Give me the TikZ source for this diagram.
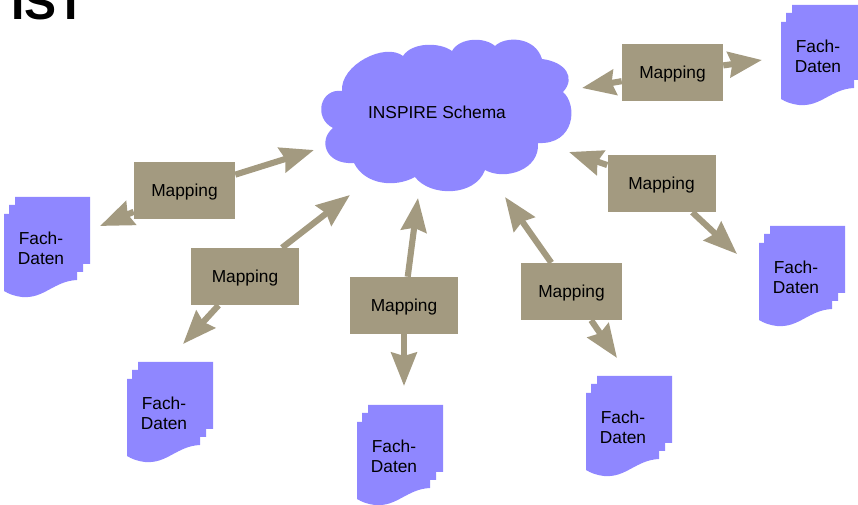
\documentclass[tikz,border=0pt]{standalone}
\usepackage{fontspec}
\setmainfont{Liberation Sans}
\usetikzlibrary{arrows.meta}
\definecolor{cloudblue}{HTML}{8F87FF}
\definecolor{maptan}{HTML}{A39A80}

\begin{document}
\begin{tikzpicture}%
	[x=0.75pt,
	y=-0.75pt,
	mapbox/.style={fill=maptan,inner sep=0pt,minimum height=42.75pt,text depth=0pt,font=\fontsize{13}{15}\selectfont},
	link/.style={draw=maptan,line width=4.6pt,-{Stealth[length=25pt,width=19pt,inset=2.5pt]}},
	sheet/.style={fill=cloudblue},
	fachdaten/.pic={
		\fill[sheet] (11,0) -- (86,0) -- (86,67) -- (79,67) -- (79,75) -- (73,75) -- (73,83)
			.. controls (50,84) and (40,102) .. (18,100) .. controls (10,99) and (5,97) .. (0,94)
			-- (0,17) -- (5,17) -- (5,8) -- (11,8) -- cycle;
		\node[align=center,font=\fontsize{13}{15}\selectfont] (-label) at (37,51.5) {Fach-\\Daten};
	}]
%
\useasboundingbox (0,0) rectangle (858,505);
%%
%% Heading, cut off by the top edge
%%
\node[anchor=base west,inner sep=0pt,font=\bfseries\fontsize{36}{36}\selectfont] (heading) at (11,20) {IST};
%%
%% The cloud
%%
\fill[cloudblue] (342,91) .. controls (340,65) and (385,42) .. (403,56)
	.. controls (412,42) and (440,42) .. (452,51)
	.. controls (460,37) and (485,37) .. (495,46)
	.. controls (505,36) and (535,36) .. (542,59)
	.. controls (566,62) and (576,78) .. (563,92)
	.. controls (578,105) and (575,145) .. (538,143)
	.. controls (540,170) and (505,181) .. (485,170)
	.. controls (475,197) and (430,197) .. (415,177)
	.. controls (395,188) and (365,185) .. (354,163)
	.. controls (325,165) and (318,140) .. (333,128)
	.. controls (313,118) and (320,88) .. (342,91) -- cycle;
\node[font=\fontsize{13}{15}\selectfont] (schema) at (437,112) {INSPIRE Schema};
%%
%% Mapping boxes
%%
\node[mapbox,minimum width=75.75pt] (map1) at (672.5,72.5) {Mapping};
\node[mapbox,minimum width=75.75pt] (map2) at (184.5,190.5) {Mapping};
\node[mapbox,minimum width=81pt] (map3) at (245,276.5) {Mapping};
\node[mapbox,minimum width=81pt] (map4) at (404,305.5) {Mapping};
\node[mapbox,minimum width=75.75pt] (map5) at (571.5,291.5) {Mapping};
\node[mapbox,minimum width=81pt] (map6) at (661.5,183.5) {Mapping};
%%
%% Free ends of the arrows
%%
\coordinate (in1) at (582,88);
\coordinate (out1) at (762,60);
\coordinate (in2) at (314,150);
\coordinate (out2) at (100,226);
\coordinate (in3) at (350,195);
\coordinate (out3) at (183,344);
\coordinate (in4) at (418,198);
\coordinate (out4) at (404,386);
\coordinate (in5) at (505,197);
\coordinate (out5) at (617,358);
\coordinate (in6) at (569,152);
\coordinate (out6) at (737,254);
%%
%% Arrows
%%
\foreach \i in {1,...,6}{
	\draw[link] (map\i) -- (in\i);
	\draw[link] (map\i) -- (out\i);
}
%%
%% Data sheets
%%
\pic (sheet1) at (781,5) {fachdaten};
\pic (sheet2) at (4,197) {fachdaten};
\pic (sheet3) at (127,362) {fachdaten};
\pic (sheet4) at (357,405) {fachdaten};
\pic (sheet5) at (586,376) {fachdaten};
\pic (sheet6) at (759,226) {fachdaten};
%%
\end{tikzpicture}
\end{document}
